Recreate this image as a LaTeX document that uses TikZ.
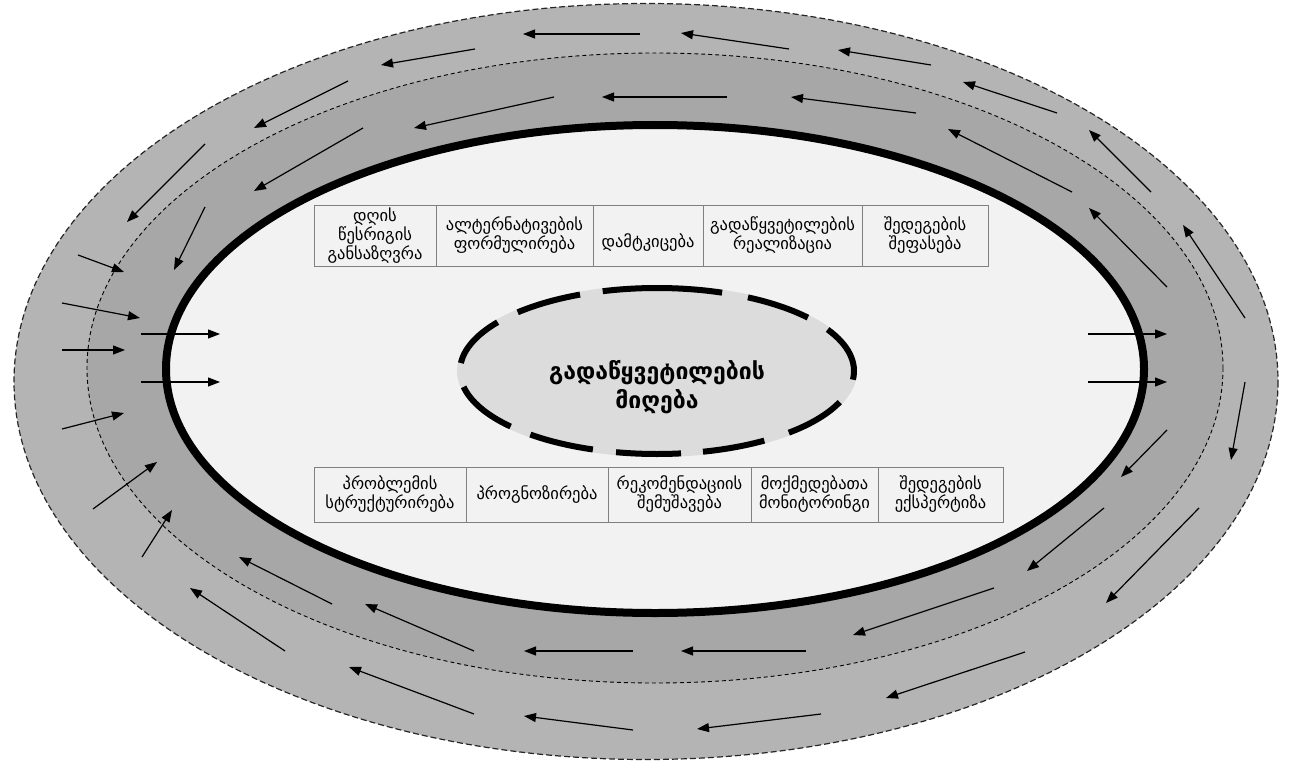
\documentclass[tikz,border=0pt]{standalone}
\usepackage{fontspec}
\setmainfont{DejaVu Sans}
\usetikzlibrary{arrows.meta}
\definecolor{outerg}{HTML}{B4B4B4}
\definecolor{innerg}{HTML}{A7A7A7}
\definecolor{paleg}{HTML}{F2F2F2}
\definecolor{coreg}{HTML}{DCDCDC}
\definecolor{boxline}{HTML}{808080}
\begin{document}
\begin{tikzpicture}[x=1pt,y=-1pt,
  arr/.style={line width=1.2pt, -{Triangle[length=12pt,width=9pt]}},
  stage/.style={draw=boxline, line width=1pt, fill=paleg, inner sep=0pt, align=center,
    font=\fontsize{16.5}{19}\selectfont},
  coredash/.style={line width=6pt},
]
\useasboundingbox (0,0) rectangle (1306,765);
% rings
\draw[fill=outerg, draw=black!85, line width=1.2pt, dash pattern=on 6pt off 3pt]
  (646,381.5) ellipse [x radius=632, y radius=378];
\draw[fill=innerg, draw=black, line width=0.9pt, dash pattern=on 4pt off 3pt]
  (655,368) ellipse [x radius=568, y radius=315];
\draw[fill=paleg, draw=black, line width=8pt]
  (655,369) ellipse [x radius=489, y radius=244];
% core
\coordinate (cc) at (657,371);
\fill[coreg] (cc) ellipse [x radius=200, y radius=86];
\foreach \s/\e in {70.7/106, 113/135, 144/174.5, 191/222, 230/251, 258/277,
  283.5/303, 312/338, 354/390, 40/62.5}
  \draw[coredash] (cc) ++(-\s:197 and 83) arc[start angle=-\s, end angle=-\e, x radius=197, y radius=83];
\node[font=\fontsize{23}{29}\selectfont\bfseries, align=center] (core) at (657,387)
  {გადაწყვეტილების\\მიღება};
% top row
\node[stage, minimum width=122pt, minimum height=61pt] (t1) at (375,235.5)
  {დღის\\წესრიგის\\განსაზღვრა};
\node[stage, minimum width=157pt, minimum height=61pt] (t2) at (514.5,235.5)
  {ალტერნატივების\\ფორმულირება};
\node[stage, minimum width=110pt, minimum height=61pt] (t3) at (648,235.5)
  {\phantom{x}\\დამტკიცება};
\node[stage, minimum width=159pt, minimum height=61pt] (t4) at (782.5,235.5)
  {გადაწყვეტილების\\რეალიზაცია};
\node[stage, minimum width=126pt, minimum height=61pt] (t5) at (925,235.5)
  {შედეგების\\შეფასება};
% bottom row
\node[stage, minimum width=152pt, minimum height=55pt] (b1) at (390,494.5)
  {პრობლემის\\სტრუქტურირება};
\node[stage, minimum width=142pt, minimum height=55pt] (b2) at (537,494.5)
  {პროგნოზირება};
\node[stage, minimum width=143pt, minimum height=55pt] (b3) at (679.5,494.5)
  {რეკომენდაციის\\შემუშავება};
\node[stage, minimum width=127pt, minimum height=55pt] (b4) at (814.5,494.5)
  {მოქმედებათა\\მონიტორინგი};
\node[stage, minimum width=125pt, minimum height=55pt] (b5) at (940.5,494.5)
  {შედეგების\\ექსპერტიზა};
% outer band arrows
\foreach \xa/\ya/\xb/\yb in {
  640/34/523/34, 789/49/681/33, 931/65/838/50, 1057/113/963/82,
  1151/192/1089/130, 1245/318/1183/225, 1245/382/1231/460, 1199/508/1106/603,
  1025/652/886/698, 821/714/697/729, 633/730/524/716, 474/714/349/667,
  285/651/190/588, 142/557/172/510, 93/509/157/462, 62/429/124/413,
  62/350/125/350, 62/303/140/318, 78/255/124/272, 205/144/127/222,
  348/81/254/128, 475/49/381/65}
  \draw[arr] (\xa,\ya) -- (\xb,\yb);
% inner band arrows
\foreach \xa/\ya/\xb/\yb in {
  727/97/602/97, 916/113/791/97, 1072/192/948/129, 1167/287/1089/208,
  1167/430/1121/477, 1104/508/1027/571, 994/588/853/635, 806/651/681/651,
  633/651/524/651, 474/651/365/604, 332/604/239/557, 205/207/174/270,
  363/128/254/191, 554/97/414/128}
  \draw[arr] (\xa,\ya) -- (\xb,\yb);
% crossing arrows
\foreach \xa/\ya/\xb/\yb in {
  141/334/220/334, 141/382/220/382, 1088/334/1167/334, 1088/382/1167/382}
  \draw[arr] (\xa,\ya) -- (\xb,\yb);
\end{tikzpicture}
\end{document}
